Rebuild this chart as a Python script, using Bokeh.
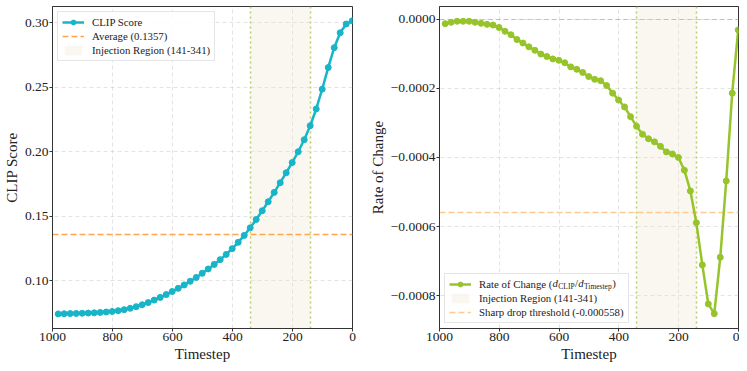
from bokeh.plotting import figure
from bokeh.layouts import row
from bokeh.models import (Range1d, Legend, LegendItem, Label, CustomJSTickFormatter, FixedTicker,
                          BoxAnnotation)
from bokeh.embed import file_html
from bokeh.resources import INLINE

# ---------------- data ----------------
timesteps = [981, 961, 941, 921, 901, 881, 861, 841, 821, 801,
             781, 761, 741, 721, 701, 681, 661, 641, 621, 601,
             581, 561, 541, 521, 501, 481, 461, 441, 421, 401,
             381, 361, 341, 321, 301, 281, 261, 241, 221, 201,
             181, 161, 141, 121, 101, 81, 61, 41, 21, 1]

clip_scores = [0.07410, 0.07425, 0.07438, 0.07450, 0.07462, 0.07477, 0.07498, 0.07525, 0.07559, 0.07602,
               0.07661, 0.07741, 0.07845, 0.07973, 0.08122, 0.08292, 0.08483, 0.08692, 0.08915, 0.09149,
               0.09394, 0.09658, 0.09941, 0.10240, 0.10560, 0.10900, 0.11252, 0.11622, 0.12028, 0.12476,
               0.12964, 0.13500, 0.14092, 0.14735, 0.15414, 0.16115, 0.16838, 0.17590, 0.18364, 0.19154,
               0.19991, 0.20925, 0.22011, 0.23311, 0.24846, 0.26522, 0.28063, 0.29220, 0.29902, 0.30147]

rate_of_change = [-0.000013, -0.000009, -0.000006, -0.000006, -0.000006, -0.000009, -0.000012, -0.000015, -0.000017, -0.000024,
                  -0.000035, -0.000045, -0.000059, -0.000069, -0.000080, -0.000090, -0.000101, -0.000108, -0.000115, -0.000119,
                  -0.000126, -0.000138, -0.000145, -0.000154, -0.000166, -0.000174, -0.000178, -0.000192, -0.000214, -0.000234,
                  -0.000254, -0.000282, -0.000310, -0.000333, -0.000346, -0.000355, -0.000368, -0.000384, -0.000390, -0.000400,
                  -0.000437, -0.000497, -0.000589, -0.000711, -0.000824, -0.000852, -0.000689, -0.000468, -0.000214, -0.000031]

x_ticks = [1000, 800, 600, 400, 200, 0]
clip_ticks = [0.10, 0.15, 0.20, 0.25, 0.30]
rate_ticks = [0.0, -0.0002, -0.0004, -0.0006, -0.0008]

average_score = 0.1357
sharp_drop_threshold = -0.000558
injection_start = 141
injection_end = 341

# ---------------- style ----------------
FONT = "Liberation Serif"
CLIP_COLOR = "#18b4c8"
RATE_COLOR = "#96c42a"
AVG_COLOR = "#ffa64d"
THR_COLOR = "#ffc98f"
REGION_FILL = "#ede6cf"
REGION_LINE = "#b8d070"
AXIS_COLOR = "#333333"
TEXT_COLOR = "#222222"

FRAME_H = 322
clip_lo, clip_hi = 0.0628, 0.3126
rate_lo, rate_hi = -0.000895, 0.0000367


def make_fig(y_lo, y_hi, frame_w, b_left, b_right, y_label, y_ticks, fmt_code):
    p = figure(output_backend="svg", toolbar_location=None,
               frame_width=frame_w, frame_height=FRAME_H,
               x_range=Range1d(1000, 0), y_range=Range1d(y_lo, y_hi),
               min_border_left=b_left, min_border_right=b_right,
               min_border_top=6, min_border_bottom=0)
    p.background_fill_color = "white"
    p.outline_line_color = AXIS_COLOR
    p.outline_line_width = 1
    p.xaxis.ticker = FixedTicker(ticks=x_ticks)
    p.yaxis.ticker = FixedTicker(ticks=y_ticks)
    p.yaxis.formatter = CustomJSTickFormatter(code=fmt_code)
    p.xaxis.axis_label = "Timestep"
    p.yaxis.axis_label = y_label
    for ax in (p.xaxis, p.yaxis):
        ax.axis_label_text_font = FONT
        ax.axis_label_text_font_size = "15px"
        ax.axis_label_text_font_style = "normal"
        ax.axis_label_text_color = TEXT_COLOR
        ax.axis_label_standoff = 2
        ax.major_label_text_font = FONT
        ax.major_label_text_font_size = "13.5px"
        ax.major_label_text_color = TEXT_COLOR
        ax.major_label_standoff = 1
        ax.major_tick_out = 3
        ax.major_tick_in = 0
        ax.minor_tick_out = 0
        ax.minor_tick_in = 0
        ax.axis_line_color = AXIS_COLOR
        ax.major_tick_line_color = AXIS_COLOR
    for g in (p.xgrid, p.ygrid):
        g.grid_line_color = "#bbbbbb"
        g.grid_line_alpha = 0.6
        g.grid_line_dash = "4 3"
        g.grid_line_width = 0.7
    return p


def style_legend(leg):
    leg.label_text_font = FONT
    leg.label_text_font_size = "10.8px"
    leg.label_text_color = TEXT_COLOR
    leg.glyph_width = 22
    leg.glyph_height = 12
    leg.label_height = 12
    leg.label_standoff = 8
    leg.spacing = 2
    leg.padding = 4
    leg.margin = 5
    leg.border_line_color = "#cccccc"
    leg.border_line_width = 1
    leg.background_fill_color = "white"
    leg.background_fill_alpha = 0.85


# ---------------- left: CLIP score ----------------
p1 = make_fig(clip_lo, clip_hi, 300, 45, 14, "CLIP Score", clip_ticks,
              "return tick.toFixed(2);")

r_region1 = p1.vstrip(x0=[injection_end], x1=[injection_start],
                      fill_color=REGION_FILL, fill_alpha=0.3, line_color=None)
p1.vspan(x=[injection_end, injection_start], line_color=REGION_LINE,
         line_dash="2 3", line_width=1.6)
r_avg = p1.hspan(y=[average_score], line_color=AVG_COLOR, line_dash="6 3", line_width=1.5)
r_l1 = p1.line(timesteps, clip_scores, line_color=CLIP_COLOR, line_width=2.5)
r_s1 = p1.scatter(timesteps, clip_scores, size=6, fill_color=CLIP_COLOR, line_color=CLIP_COLOR)

leg1 = Legend(items=[
    LegendItem(label="CLIP Score", renderers=[r_l1, r_s1]),
    LegendItem(label=f"Average ({average_score})", renderers=[r_avg]),
    LegendItem(label=f"Injection Region ({injection_start}-{injection_end})", renderers=[r_region1]),
], location="top_left")
style_legend(leg1)
p1.add_layout(leg1)

# ---------------- right: rate of change ----------------
R_FRAME_W = 299
p2 = make_fig(rate_lo, rate_hi, R_FRAME_W, 68, 1, "Rate of Change", rate_ticks,
              "const s = Math.abs(tick).toFixed(4); return (tick < -1e-12 ? '\\u2212' : '') + s;")


def rx(dx):
    return 1000 - dx * 1000 / R_FRAME_W


def ry(dy):
    return rate_lo + dy * (rate_hi - rate_lo) / FRAME_H


# white backing for the legend (kept under the legend text and the math pieces)
p2.add_layout(BoxAnnotation(left=rx(5), right=rx(190), bottom=ry(5), top=ry(55),
                            fill_color="white", fill_alpha=0.85, line_color=None,
                            level="underlay"))

r_region2 = p2.vstrip(x0=[injection_end], x1=[injection_start],
                      fill_color=REGION_FILL, fill_alpha=0.3, line_color=None)
p2.vspan(x=[injection_end, injection_start], line_color=REGION_LINE,
         line_dash="2 3", line_width=1.6)
p2.hspan(y=[0.0], line_color="#999999", line_alpha=0.5, line_dash="5 3", line_width=1.0)
r_thr = p2.hspan(y=[sharp_drop_threshold], line_color=THR_COLOR, line_dash="6 3", line_width=1.5)
r_l2 = p2.line(timesteps, rate_of_change, line_color=RATE_COLOR, line_width=2.5)
r_s2 = p2.scatter(timesteps, rate_of_change, size=6, fill_color=RATE_COLOR, line_color=RATE_COLOR)

leg2 = Legend(items=[
    LegendItem(label="Rate of Change (", renderers=[r_l2, r_s2]),
    LegendItem(label=f"Injection Region ({injection_start}-{injection_end})", renderers=[r_region2]),
    LegendItem(label=f"Sharp drop threshold ({sharp_drop_threshold})", renderers=[r_thr]),
], location="bottom_left")
style_legend(leg2)
leg2.background_fill_alpha = 0.0
p2.add_layout(leg2)

# math part of the first legend label: d_CLIP / d_Timestep
row_dy = 45.5
pieces = [
    ("d", 113.0, 0.0, "10.8px", "italic"),
    ("CLIP", 118.8, -3.0, "7.5px", "normal"),
    ("/", 135.5, 0.0, "10.8px", "normal"),
    ("d", 138.8, 0.0, "10.8px", "italic"),
    ("Timestep", 144.5, -3.0, "7.5px", "normal"),
    (")", 172.8, 0.0, "10.8px", "normal"),
]
for txt, dx, ddy, fs, st in pieces:
    p2.add_layout(Label(x=rx(dx), y=ry(row_dy + ddy), x_units="data", y_units="data",
                        text=txt, text_font=FONT, text_font_size=fs, text_font_style=st,
                        text_color=TEXT_COLOR, text_baseline="middle", text_align="left",
                        level="overlay"))

layout = row(p1, p2)
open("out.html", "w").write(file_html(layout, INLINE))
